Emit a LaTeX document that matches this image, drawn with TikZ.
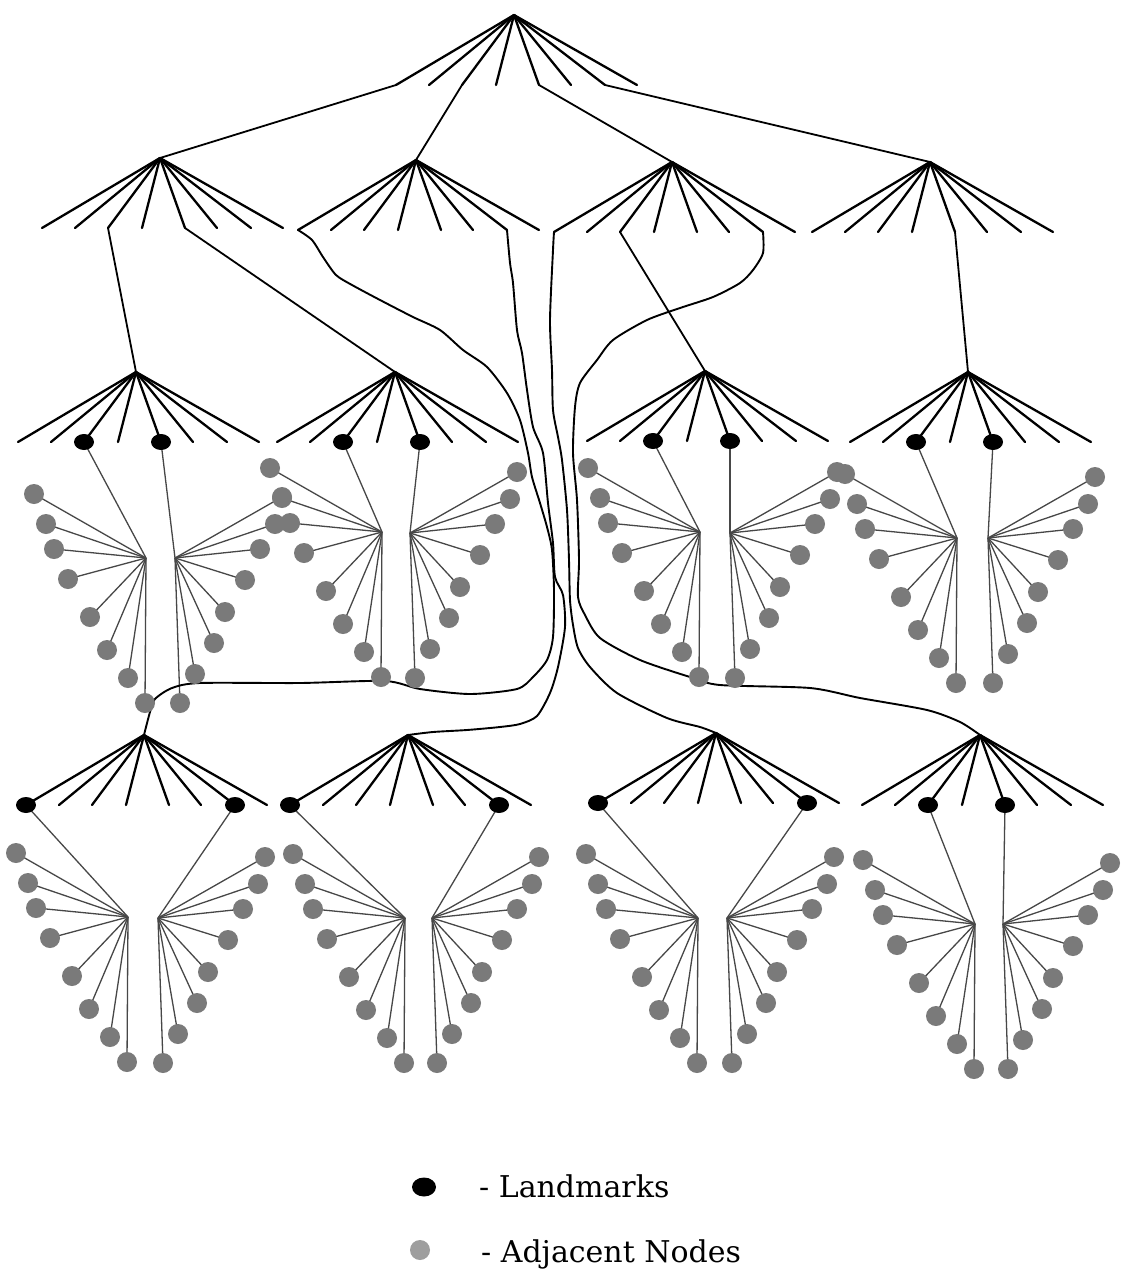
\documentclass[tikz,border=0pt]{standalone}
\usepackage{fontspec}
\setmainfont{DejaVu Serif}
\usetikzlibrary{shapes.geometric}
\pgfdeclarelayer{bg}
\pgfdeclarelayer{paper}
\pgfsetlayers{paper,bg,main}
\begin{document}
\begin{tikzpicture}[x=1pt,y=-1pt,
  edge/.style={line width=2.3pt, line cap=round},
  link/.style={line width=1.8pt, line cap=round},
  route/.style={line width=1.9pt, line join=round, line cap=round},
  spoke/.style={line width=1.3pt, black!72},
  lmark/.style={ellipse, fill=black, minimum width=20pt, minimum height=16pt, inner sep=0pt},
  adj/.style={circle, fill=black!52, minimum size=20pt, inner sep=0pt},
  legtext/.style={anchor=base west, inner sep=0pt, font=\fontsize{30}{36}\selectfont}
]
\begin{pgfonlayer}{paper}
\fill[white] (0,0) rectangle (1123,1274);
\end{pgfonlayer}
\useasboundingbox (0,0) rectangle (1123,1274);

% fans of tree edges
\foreach \n/\px/\py in {R/514/15, A/160/158, B/416/160, C/672/162, D/930/162,
  A3/136/372, B3/395/372, C3/705/371, D3/968/372,
  A4/144/735, B4/408/735, C4/716/733, D4/980/735}{
  \coordinate (\n) at (\px,\py);
  \foreach \i/\dx in {1/-118,2/-85,3/-52,4/-18,5/25,6/57,7/91,8/123}{
    \coordinate (\n-\i) at ({\px+\dx},{\py+70});
    \draw[edge] (\n) -- (\n-\i);
  }
}

% links between levels
\draw[link] (R-1) -- (A);
\draw[link] (R-3) -- (B);
\draw[link] (R-5) -- (C);
\draw[link] (R-7) -- (D);
\draw[link] (A-3) -- (A3);
\draw[link] (A-5) -- (B3);
\draw[link] (C-3) -- (C3);
\draw[link] (D-5) -- (D3);

% long routes
\draw[route] plot[smooth, tension=0.45] coordinates {(B-1) (312,240) (323,257) (336,275) (352,285) (380,300) (413,317) (440,330) (463,350) (487,367) (507,393) (520,420) (528,453) (532,477) (540,503) (547,527) (552,550) (554,590) (553,637) (547,660) (533,677) (517,689) (470,694) (420,689) (385,681) (300,683) (200,683) (172,688) (155,699) (150,712) (A4)};
\draw[route] plot[smooth, tension=0.45] coordinates {(B-7) (510,263) (513,283) (517,330) (522,353) (527,390) (533,427) (543,453) (548,503) (553,543) (555,577) (563,595) (565,627) (558,667) (550,693) (537,716) (520,724) (500,727) (467,730) (433,732) (B4)};
\draw[route] plot[smooth, tension=0.45] coordinates {(C-1) (553,250) (550,320) (552,370) (553,410) (558,437) (562,460) (567,510) (569,560) (570,600) (573,625) (578,648) (590,667) (617,693) (667,718) (700,727) (C4)};
\draw[route] plot[smooth, tension=0.45] coordinates {(C-7) (763,253) (753,270) (740,283) (713,297) (680,308) (647,320) (613,340) (597,360) (580,383) (575,407) (573,453) (577,500) (579,560) (578,597) (585,615) (600,638) (640,660) (690,677) (720,685) (810,688) (860,698) (927,710) (960,722) (D4)};

% clusters of adjacent nodes
\foreach \c/\lx/\ly/\rx/\ry/\la/\lb in {A3/146/558/175/558/3/5, B3/382/532/410/533/3/5,
  C3/700/532/730/533/3/5, D3/957/538/988/538/3/5,
  A4/128/917/158/918/1/7, B4/405/918/432/918/1/7,
  C4/698/918/727/918/1/7, D4/975/924/1003/924/3/5}{
  \coordinate (\c-hl) at (\lx,\ly);
  \coordinate (\c-hr) at (\rx,\ry);
  \node[lmark] (\c-la) at (\c-\la) {};
  \node[lmark] (\c-lb) at (\c-\lb) {};
  \begin{pgfonlayer}{bg}
    \draw[spoke] (\c-la.center) -- (\c-hl);
    \draw[spoke] (\c-lb.center) -- (\c-hr);
  \end{pgfonlayer}
  \foreach \k/\dx/\dy in {1/-112/-64, 2/-100/-34, 3/-92/-9, 4/-78/21, 5/-56/59, 6/-39/92, 7/-18/120, 8/-1/145}{
    \node[adj] (\c-l\k) at ({\lx+\dx},{\ly+\dy}) {};
    \begin{pgfonlayer}{bg}
      \draw[spoke] (\c-hl) -- (\c-l\k.center);
    \end{pgfonlayer}
  }
  \foreach \k/\dx/\dy in {1/107/-61, 2/100/-34, 3/85/-9, 4/70/22, 5/50/54, 6/39/85, 7/20/116, 8/5/145}{
    \node[adj] (\c-r\k) at ({\rx+\dx},{\ry+\dy}) {};
    \begin{pgfonlayer}{bg}
      \draw[spoke] (\c-hr) -- (\c-r\k.center);
    \end{pgfonlayer}
  }
}

% legend
\node[lmark, minimum width=24pt, minimum height=19pt] (legL) at (424,1187) {};
\node[adj, minimum size=20pt, fill=black!38] (legA) at (420,1250) {};
\node[legtext] (txtL) at (479,1197) {- Landmarks};
\node[legtext] (txtA) at (481,1262) {- Adjacent Nodes};
\end{tikzpicture}
\end{document}
